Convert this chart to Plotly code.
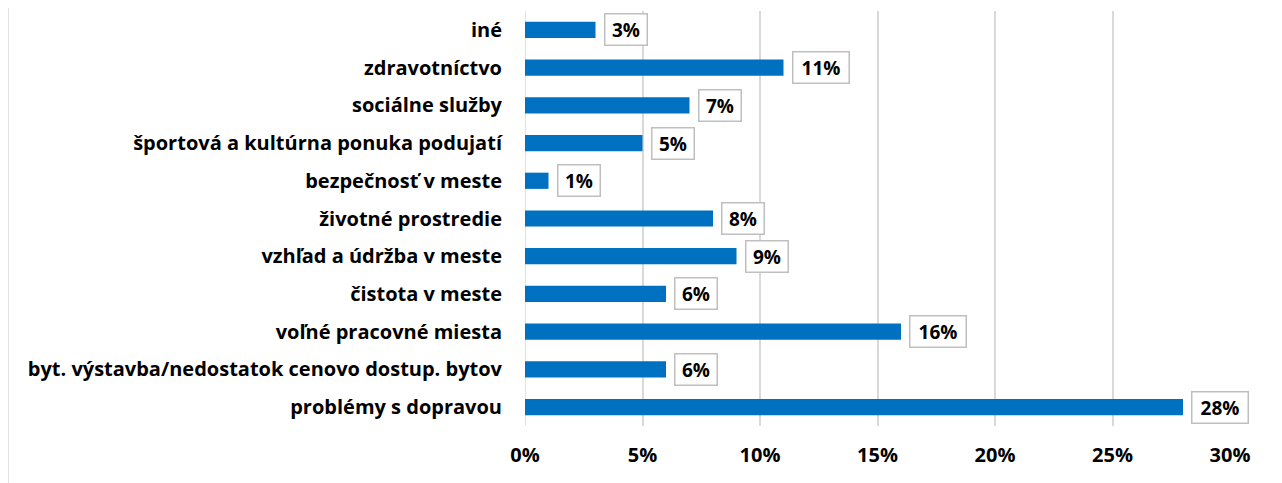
import plotly.graph_objects as go

# categories bottom -> top (plotly draws the first category at the bottom)
categories = [
    "problémy s dopravou",
    "byt. výstavba/nedostatok cenovo dostup. bytov",
    "voľné pracovné miesta",
    "čistota v meste",
    "vzhľad a údržba v meste",
    "životné prostredie",
    "bezpečnosť v meste",
    "športová a kultúrna ponuka podujatí",
    "sociálne služby",
    "zdravotníctvo",
    "iné",
]
shares = [28, 6, 16, 6, 9, 8, 1, 5, 7, 11, 3]
tick_vals = [0, 5, 10, 15, 20, 25, 30]
tick_text = ["0%", "5%", "10%", "15%", "20%", "25%", "30%"]

FONT = "Open Sans"
BLUE = "#0070C0"
GRID = "#D9D9D9"

# page body has an 8px margin, so the figure is placed 8px right/down
ML, MT, PW, PH = 517, 3, 705, 415

fig = go.Figure()
fig.add_trace(go.Bar(
    x=shares,
    y=categories,
    orientation="h",
    marker=dict(color=BLUE, line=dict(width=0)),
    width=0.43,
    hoverinfo="skip",
))

# boxed value labels right of each bar
for cat, val in zip(categories, shares):
    fig.add_annotation(
        x=val, y=cat, xref="x", yref="y",
        text=f"<b>{val}%</b>",
        showarrow=False,
        xanchor="left", yanchor="middle",
        xshift=8,
        width=31 if val < 10 else 45,
        height=20,
        font=dict(family=FONT, size=19, color="#000000"),
        bgcolor="#FFFFFF",
        bordercolor="#BFBFBF",
        borderwidth=1.5,
        borderpad=5,
    )

# chart-area frame (left and right edges)
for px in [0, 1272]:
    xp = (px - ML) / PW
    fig.add_shape(type="line", xref="paper", yref="paper",
                  x0=xp, x1=xp, y0=-1, y1=2,
                  line=dict(color=GRID, width=1.5))

fig.update_layout(
    width=1282, height=483,
    margin=dict(l=ML, r=1282 - ML - PW, t=MT, b=483 - MT - PH, autoexpand=False),
    plot_bgcolor="#FFFFFF",
    paper_bgcolor="#FFFFFF",
    showlegend=False,
    font=dict(family=FONT, size=20, color="#000000"),
)
fig.update_xaxes(
    range=[0, 30],
    tickvals=tick_vals,
    ticktext=[f"<b>{t}</b>" for t in tick_text],
    showgrid=True, gridcolor=GRID, gridwidth=1.5,
    zeroline=False, showline=False,
    ticks="", ticklabelstandoff=15,
    tickfont=dict(family=FONT, size=20, color="#000000"),
)
fig.update_yaxes(
    categoryorder="array", categoryarray=categories,
    range=[-0.5, len(categories) - 0.5],
    tickvals=categories,
    ticktext=[f"<b>{c}</b>" for c in categories],
    showgrid=False, zeroline=False, showline=False,
    ticks="", ticklabelstandoff=22,
    tickfont=dict(family=FONT, size=20, color="#000000"),
)
fig.add_shape(type="line", xref="x", yref="paper", x0=0, x1=0, y0=0, y1=1,
              line=dict(color=GRID, width=1.5), layer="below")

fig.write_html("out.html")
